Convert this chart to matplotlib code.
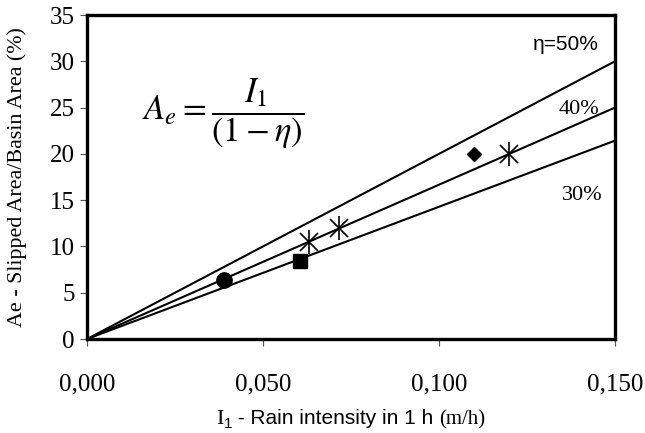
import numpy as np
import matplotlib
matplotlib.use("Agg")
from matplotlib import pyplot as plt

# data
eta = [0.5, 0.4, 0.3]
eta_labels = ["η=50%", "40%", "30%"]
x_line = [0.0, 0.15]

circle_x, circle_y = [0.039], [6.4]
square_x, square_y = [0.0605], [8.4]
diamond_x, diamond_y = [0.110], [20.0]
star_x = [0.063, 0.0715, 0.120]
star_y = [10.5, 12.0, 20.0]

xticks = [0.0, 0.05, 0.10, 0.15]
xtick_labels = ["0,000", "0,050", "0,100", "0,150"]
yticks = [0, 5, 10, 15, 20, 25, 30, 35]

plt.rcParams['mathtext.fontset'] = 'stix'

fig = plt.figure(figsize=(6.45, 4.33), dpi=100)
ax = fig.add_axes([87/645, 1-339/433, (615-87)/645, (339-15)/433])

# lines Ae = I1/(1-eta)
for e in eta:
    yy = [xv / (1 - e) * 100 for xv in x_line]
    ax.plot(x_line, yy, color='black', lw=1.5, solid_capstyle='butt')

ax.plot(circle_x, circle_y, 'o', color='black', ms=11)
ax.plot(square_x, square_y, 's', color='black', ms=9.5)
ax.plot(diamond_x, diamond_y, 'D', color='black', ms=7.5)
ax.plot(star_x, star_y, 'x', color='black', ms=13, mew=1.2)
ax.plot(star_x, star_y, '|', color='black', ms=17, mew=1.2)

ax.set_xlim(0, 0.15)
ax.set_ylim(0, 35)
ax.set_xticks(xticks)
ax.set_xticklabels(xtick_labels)
ax.set_yticks(yticks)
for s in ax.spines.values():
    s.set_linewidth(2.4)
ax.tick_params(axis='both', direction='out', length=5, width=0.8, color='#555555',
               labelsize=18)
ax.tick_params(axis='x', pad=20)
ax.tick_params(axis='y', pad=4)
for lab in ax.get_xticklabels() + ax.get_yticklabels():
    lab.set_fontfamily('Liberation Serif')

ax.set_ylabel("Ae - Slipped Area/Basin Area (%)", fontfamily='Liberation Serif',
              fontsize=15.8)
ax.yaxis.set_label_coords(-0.114, 0.5)

# line labels
ax.text(0.1455, 31.8, eta_labels[0], family='Liberation Sans', fontsize=15,
        ha='right', va='center')
ax.text(0.1455, 24.8, eta_labels[1], family='Liberation Serif', fontsize=16,
        ha='right', va='center')
ax.text(0.1465, 15.5, eta_labels[2], family='Liberation Serif', fontsize=16,
        ha='right', va='center')

# equation
ax.text(0.0155, 24.3, r"$A_e=\dfrac{I_1}{\left(1-\eta\right)}$", fontsize=25,
        ha='left', va='center')

# x label made of pieces with mixed fonts
fig.canvas.draw()
r = fig.canvas.get_renderer()
pieces = [("I", 'Liberation Serif', 16, 0),
          ("1", 'Liberation Sans', 11, -4),
          (" - Rain intensity in 1 h ", 'Liberation Sans', 15, 0),
          ("(m/h)", 'Liberation Serif', 15, 0)]
widths = []
for txt, fam, fs, dy in pieces:
    t = fig.text(0, 0, txt, family=fam, fontsize=fs)
    widths.append(t.get_window_extent(r).width)
    t.remove()
total = sum(widths)
xpix = 351 - total / 2
base = 433 - 424
for (txt, fam, fs, dy), w in zip(pieces, widths):
    fig.text(xpix / 645, (base + dy) / 433, txt, family=fam, fontsize=fs,
             ha='left', va='baseline')
    xpix += w

fig.savefig("out.png", dpi=100)
